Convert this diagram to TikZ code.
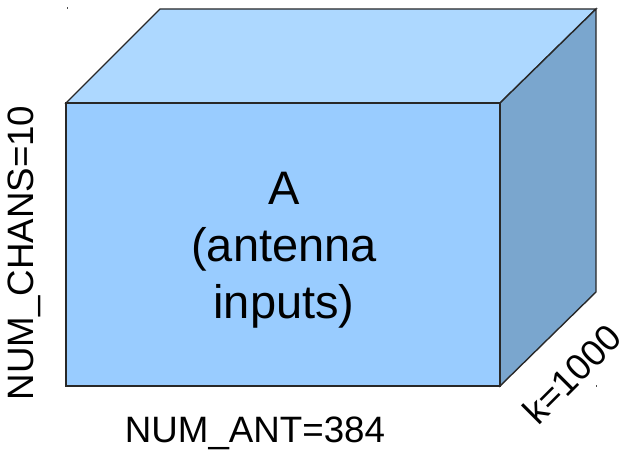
\documentclass[tikz,border=0pt]{standalone}
\usepackage{fontspec}
\setmainfont{Liberation Sans}
\definecolor{frontc}{RGB}{153,204,255}
\definecolor{topc}{RGB}{173,216,255}
\definecolor{sidec}{RGB}{122,166,206}
\definecolor{edgec}{RGB}{40,40,40}
\begin{document}
\begin{tikzpicture}[x=1pt,y=-1pt,
  face/.style={draw=edgec,line width=1.4pt,line join=miter},
  lbl/.style={font=\fontsize{36.7}{44}\selectfont,inner sep=0pt},
  big/.style={font=\fontsize{47}{57}\selectfont,align=center,inner sep=0pt}]
\useasboundingbox (0,0) rectangle (621,454);
% faces
\coordinate (f1) at (66,103);
\coordinate (f2) at (500,103);
\coordinate (f3) at (500,386);
\coordinate (f4) at (66,386);
\coordinate (b1) at (160,9);
\coordinate (b2) at (596,9);
\coordinate (b3) at (596,292);
\filldraw[face,fill=topc] (f1) -- (b1) -- (b2) -- (f2) -- cycle;
\filldraw[face,fill=sidec] (f2) -- (b2) -- (b3) -- (f3) -- cycle;
\filldraw[face,fill=frontc] (f1) -- (f2) -- (f3) -- (f4) -- cycle;
% tiny marks
\fill[black!70] (66.5,7.5) rectangle (68,9);
\fill[black!70] (595.5,385) rectangle (597,386.5);
% labels
\node[big] (A) at (284,250) {A\\(antenna\\inputs)};
\node[lbl,rotate=90] (chans) at (24,253) {NUM\_CHANS=10};
\node[lbl] (ant) at (255,433) {NUM\_ANT=384};
\node[lbl,rotate=45] (k) at (572,374) {k=1000};
\end{tikzpicture}
\end{document}
